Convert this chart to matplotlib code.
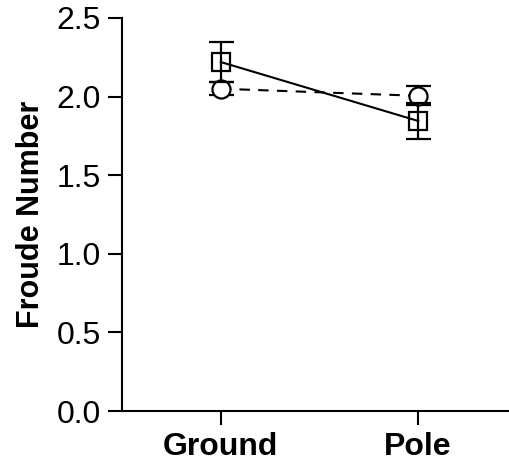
import matplotlib
matplotlib.use("Agg")
import matplotlib.pyplot as plt

plt.rcParams['font.family'] = ['Liberation Sans', 'DejaVu Sans']

# data
conditions = ["Ground", "Pole"]
square_mean = [2.22, 1.845]
square_err = [0.13, 0.115]
circle_mean = [2.05, 2.005]
circle_err = [0.04, 0.06]

fig = plt.figure(figsize=(5.09, 4.65), dpi=100)
ax = fig.add_axes([0.2397, 0.1161, 0.7603, 0.8452])

x = list(range(len(conditions)))

ax.errorbar(x, circle_mean, yerr=circle_err, color='black', linestyle='--',
            dashes=(5, 4), linewidth=1.5, marker='o', markersize=13,
            markerfacecolor='white', markeredgewidth=1.6,
            capsize=9, elinewidth=1.6, capthick=1.6, zorder=2)
ax.errorbar(x, square_mean, yerr=square_err, color='black', linestyle='-',
            linewidth=1.5, marker='s', markersize=13,
            markerfacecolor='none', markeredgewidth=1.6,
            capsize=9, elinewidth=1.6, capthick=1.6, zorder=3)

ax.set_xlim(-0.5, 1.46)
ax.set_ylim(0, 2.5)
ax.set_yticks([0.0, 0.5, 1.0, 1.5, 2.0, 2.5])
ax.set_yticklabels(["0.0", "0.5", "1.0", "1.5", "2.0", "2.5"])
ax.set_xticks(x)
ax.set_xticklabels(conditions, fontweight='bold')
ax.tick_params(axis='both', labelsize=23, length=10, width=1.5, pad=5)
ax.set_ylabel("Froude Number", fontsize=22, fontweight='bold', labelpad=8)

for side in ['top', 'right']:
    ax.spines[side].set_visible(False)
for side in ['left', 'bottom']:
    ax.spines[side].set_linewidth(1.5)

fig.savefig("out.png", dpi=100)
